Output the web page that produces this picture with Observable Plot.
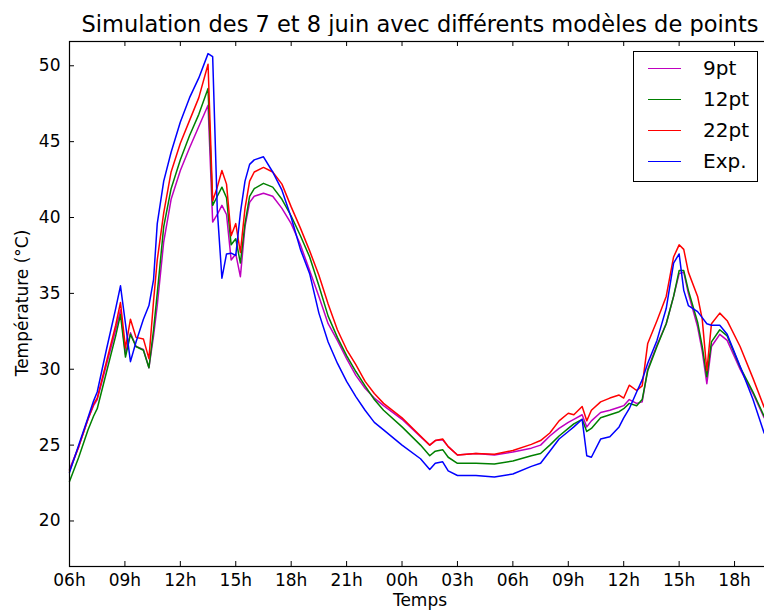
<!DOCTYPE html>
<html><head><meta charset="utf-8">
<script src="https://cdn.jsdelivr.net/npm/d3@7"></script>
<script src="https://cdn.jsdelivr.net/npm/@observablehq/plot@0.6"></script>
<style>
html,body{margin:0;padding:0;overflow:hidden;background:#fff;font-family:"DejaVu Sans",sans-serif;color:#000;}
#wrap{position:relative;width:776px;height:610px;}
#title{position:absolute;left:0;width:840px;top:11px;text-align:center;font-size:22.5px;line-height:26px;white-space:nowrap;}
#chart{position:absolute;left:0;top:36px;}
#ylab{position:absolute;left:22px;top:303px;transform:translate(-50%,-50%) rotate(-90deg);font-size:17px;white-space:nowrap;}
#xlab{position:absolute;left:420px;top:590px;transform:translateX(-50%);font-size:17px;line-height:20px;white-space:nowrap;}
#legend{position:absolute;left:633px;top:51px;width:125px;height:131px;border:1.4px solid #000;background:#fff;box-sizing:border-box;}
.sw{position:absolute;left:14px;width:33px;height:0;border-top:1.5px solid;}
.lt{position:absolute;left:69px;font-size:20px;line-height:20px;white-space:nowrap;}
</style></head>
<body>
<div id="wrap">
  <div id="title">Simulation des 7 et 8 juin avec différents modèles de points</div>
  <div id="chart"></div>
  <div id="ylab">Température (°C)</div>
  <div id="xlab">Temps</div>
  <div id="legend"></div>
</div>
<script>
// hours since 06h on 7 June
const hours = [0,0.5,1,1.3,1.5, 2,2.5,2.76,3.03,3.3, 3.6,4,4.3,4.55,4.75, 5.1,5.5,6,6.5,7,
  7.5,7.75,8,8.25,8.5, 8.75,9,9.25,9.5,9.75, 10,10.5,11,11.5,12, 12.5,13,13.5,14,14.5,
  15,15.5,16,16.5,17, 18,19,19.5,19.8,20.2, 20.5,21,22,23,24, 25,25.5,26,26.5,27,
  27.3,27.75,28,28.25,28.75, 29.25,29.75,30,30.3,30.7, 31,31.3,31.8,32.3,32.7,
  33,33.25,33.5,34,34.25, 34.5,34.75,35.2,35.6,36.3, 37,37.6];

const sim9 = [23.4,24.9,26.7,27.6,28.0, 30.3,32.6,33.9,31.0,32.4, 31.5,31.3,30.1,32.2,34.2,
  38.4,41.2,43.1,44.6,46.0, 47.4,39.7,40.2,40.8,40.2, 37.2,37.6,36.1,39.4,41.0,
  41.4,41.6,41.4,40.6,39.6, 38.2,36.5,34.8,33.0,31.9, 30.7,29.6,28.75,28.1,27.6,
  26.7,25.55,25.0,25.3,25.35, 24.9,24.35,24.45,24.35,24.55, 24.8,25.0,25.6,26.1,26.5,
  26.7,27.0,26.2,26.6,27.15, 27.3,27.5,27.6,28.0,27.75, 27.85,30.0,31.6,33.0,34.8,
  36.3,36.4,35.0,32.8,31.2, 29.05,31.5,32.3,31.9,30.0, 28.4,26.8];

const sim12 = [22.6,24.2,26.0,26.9,27.4, 29.8,32.2,33.6,30.8,32.3, 31.5,31.25,30.1,32.6,35.0,
  39.4,41.9,43.8,45.4,46.8, 48.5,40.8,41.4,42.0,41.3, 38.2,38.6,37.0,39.6,41.4,
  41.9,42.25,42.0,41.2,40.1, 38.8,37.4,35.5,33.5,32.1, 30.9,29.85,28.9,28.0,27.3,
  26.2,25.0,24.3,24.6,24.7, 24.2,23.8,23.8,23.75,23.95, 24.3,24.45,25.0,25.6,26.1,
  26.4,26.7,25.9,26.1,26.8, 27.0,27.2,27.4,27.75,27.6, 28.0,29.9,31.5,33.0,34.8,
  36.5,36.5,35.2,33.1,31.5, 29.5,31.8,32.6,32.2,30.15, 28.5,26.9];

const sim22 = [23.3,24.9,26.7,27.7,28.1, 30.5,32.9,34.4,31.4,33.3, 32.1,32.0,30.7,34.5,37.2,
  40.3,43.0,44.9,46.4,47.9, 50.1,41.1,42.0,43.1,42.2, 38.8,39.6,37.7,40.6,42.4,
  43.0,43.3,43.0,42.2,40.7, 39.3,37.8,36.2,34.3,32.6, 31.3,30.3,29.2,28.4,27.75,
  26.8,25.6,25.0,25.3,25.4, 24.9,24.35,24.45,24.4,24.65, 25.05,25.3,25.8,26.6,27.1,
  27.0,27.55,26.6,27.3,27.85, 28.1,28.3,28.1,28.95,28.6, 28.9,31.7,33.2,34.8,37.4,
  38.2,37.9,36.4,34.8,33.3, 29.9,33.0,33.7,33.2,31.5, 29.4,27.5];

const expData = [23.2,25.0,26.8,27.9,28.5, 31.3,34.0,35.5,33.0,30.5, 31.8,33.3,34.2,35.9,39.6,
  42.4,44.3,46.3,47.9,49.2, 50.8,50.6,40.5,36.0,37.6, 37.65,37.5,40.3,42.4,43.5,
  43.8,44.0,43.0,41.8,40.0, 37.9,36.3,33.7,31.8,30.4, 29.2,28.2,27.3,26.5,26.0,
  25.0,24.1,23.4,23.8,23.9, 23.3,23.0,23.0,22.9,23.1, 23.6,23.8,24.6,25.4,25.9,
  26.2,26.7,24.3,24.2,25.4, 25.55,26.2,26.8,27.4,28.5, 29.3,30.4,31.9,34.0,37.0,
  37.6,35.2,34.2,33.8,33.4, 33.0,32.9,32.9,32.3,30.2, 28.0,25.8];

const seriesNames = ["9pt", "12pt", "22pt", "Exp."];
const seriesValues = [sim9, sim12, sim22, expData];
const seriesColors = ["#bf00bf", "#008000", "#ff0000", "#0000ff"];

const tickHours = [0,3,6,9,12,15,18,21,24,27,30,33,36];
const tickLabels = ["06h","09h","12h","15h","18h","21h","00h","03h","06h","09h","12h","15h","18h"];
const yTicks = [20,25,30,35,40,45,50];

const W = 776, H = 574, ML = 69, MR = 5, MT = 5, MB = 44;
const innerW = W - ML - MR, innerH = H - MT - MB, tl = 5;

const lineMarks = seriesNames.map((name, k) =>
  Plot.line(hours.map((h, i) => ({h, T: seriesValues[k][i], s: name})),
    {x: "h", y: "T", stroke: seriesColors[k], strokeWidth: 1.5, strokeLinejoin: "round"}));

const chart = Plot.plot({
  width: W, height: H,
  marginLeft: ML, marginRight: MR, marginTop: MT, marginBottom: MB,
  style: {fontFamily: "DejaVu Sans, sans-serif", fontSize: "17px", color: "#000", background: "#fff", overflow: "visible"},
  x: {domain: [0, 38], ticks: tickHours, tickFormat: d => tickLabels[tickHours.indexOf(d)], tickSize: 0, tickPadding: 7, label: null},
  y: {domain: [17, 51.6], ticks: yTicks, tickSize: 0, tickPadding: 9, label: null},
  marks: [
    ...lineMarks,
    Plot.tickX(tickHours, {x: d => d, stroke: "#000", insetTop: innerH - tl}),
    Plot.tickX(tickHours, {x: d => d, stroke: "#000", insetBottom: innerH - tl}),
    Plot.tickY(yTicks, {y: d => d, stroke: "#000", insetRight: innerW - tl}),
    Plot.frame({stroke: "#000", strokeWidth: 1.2})
  ]
});
document.getElementById("chart").appendChild(chart);

const leg = document.getElementById("legend");
seriesNames.forEach((name, k) => {
  const cy = 16 + k * 31;
  const sw = document.createElement("div");
  sw.className = "sw";
  sw.style.top = cy + "px";
  sw.style.borderTopColor = seriesColors[k];
  leg.appendChild(sw);
  const t = document.createElement("div");
  t.className = "lt";
  t.style.top = (cy - 10) + "px";
  t.textContent = name;
  leg.appendChild(t);
});
</script>
</body></html>
